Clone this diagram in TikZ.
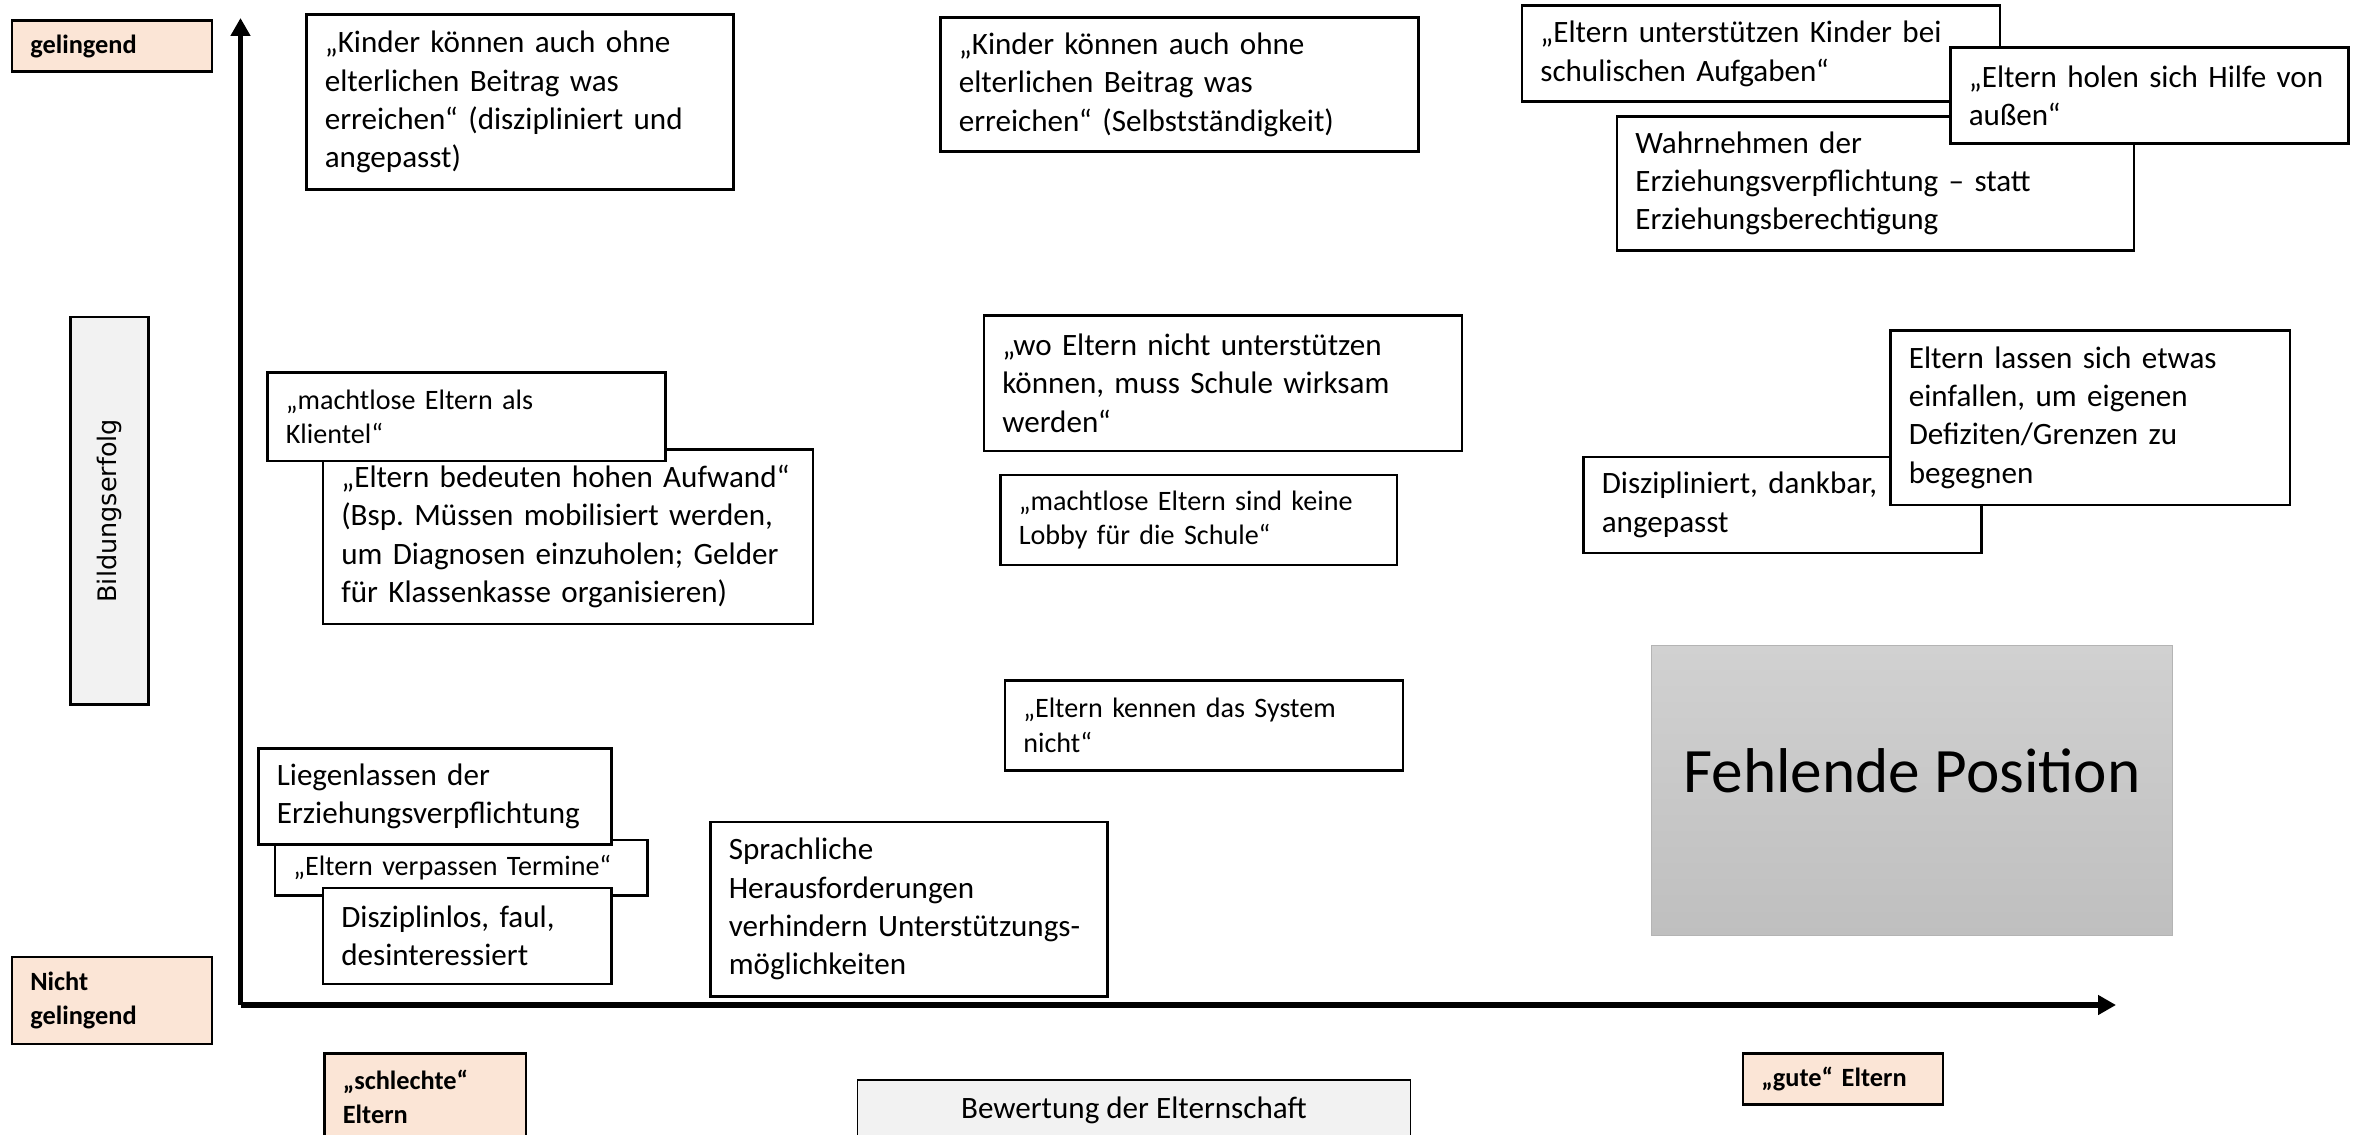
\documentclass[tikz,border=0pt]{standalone}
\usepackage{fontspec}
\setmainfont{Carlito}
\newfontfamily\axisfont{DejaVu Sans}
\usetikzlibrary{arrows.meta, positioning}
\frenchspacing
\definecolor{elPeach}{HTML}{FBE5D6}
\definecolor{elGrey}{HTML}{F2F2F2}
\definecolor{elShadeTop}{HTML}{D1D1D1}
\definecolor{elShadeBot}{HTML}{BFBFBF}
\definecolor{elEdge}{HTML}{B4B4B4}
\tikzset{
  % boxes are placed by their top left corner, sizes taken from the slide
  every picture/.append style = {line width=1.5pt},
  axisline/.style  = {-{Triangle[length=3.6mm, width=3.8mm]}, line width=3.4pt, black},
  quote/.style 2 args = {draw=black, fill=white, anchor=north west, align=left,
                         inner xsep=3.7mm, inner ysep=0pt, text width=#1, minimum height=#2,
                         font=\fontsize{17.7}{21.8}\selectfont},
  squote/.style 2 args = {quote={#1}{#2}, font=\fontsize{16}{19.5}\selectfont},
  pole/.style 2 args   = {quote={#1}{#2}, fill=elPeach, font=\fontsize{15}{19.5}\selectfont\bfseries},
  axtitle/.style   = {draw=black, fill=elGrey, inner sep=0pt, align=center},
  gap/.style       = {draw=elEdge, line width=0.8pt, top color=elShadeTop, bottom color=elShadeBot,
                      anchor=north west, inner sep=0pt, text depth=0.8cm,
                      font=\fontsize{36}{43}\selectfont},
}

\begin{document}
\begin{tikzpicture}[x=1cm,y=1cm]
  \useasboundingbox (0,0) rectangle (47.12,-22.70);
  % --- axes --------------------------------------------------------------
  \coordinate (origin) at (4.81,-20.10);
  \coordinate (ytop)   at (4.81,-0.36);
  \coordinate (xend)   at (42.32,-20.10);
  \draw[axisline] (origin) -- (ytop);
  \draw[axisline] (origin) -- (xend);
  \node[axtitle, rotate=90, minimum width=7.75cm, minimum height=1.56cm,
        font=\axisfont\fontsize{14.5}{17}\selectfont] (erfolg) at (2.19,-10.215) {Bildungserfolg};
  \node[axtitle, anchor=north west, minimum width=11.06cm, minimum height=1.2cm, line width=1pt,
        font=\fontsize{17.7}{21.8}\selectfont] (bewertung) at (17.13,-21.58) {Bewertung der Elternschaft};
  \node[pole={3.26cm}{1.02cm}] (gelingt)  at (0.21,-0.39)  {gelingend};
  \node[pole={3.26cm}{1.74cm}] (misslingt) at (0.21,-19.11) {Nicht\\gelingend};
  \node[pole={3.29cm}{1.74cm}] (schlecht) at (6.46,-21.04) {„schlechte“\\Eltern};
  \node[pole={3.26cm}{1.02cm}] (gut)      at (34.83,-21.04) {„gute“ Eltern};
  % --- upper row ---------------------------------------------------------
  \node[quote={7.80cm}{3.49cm}] (kinderDisz) at (6.10,-0.27)
    {„Kinder können auch ohne\\elterlichen Beitrag was\\erreichen“ (diszipliniert und\\angepasst)};
  \node[quote={8.82cm}{2.68cm}] (kinderSelbst) at (18.78,-0.33)
    {„Kinder können auch ohne\\elterlichen Beitrag was\\erreichen“ (Selbstständigkeit)};
  \node[quote={8.82cm}{1.92cm}] (unterstuetzen) at (30.41,-0.09)
    {„Eltern unterstützen Kinder bei\\schulischen Aufgaben“};
  \node[quote={9.60cm}{2.67cm}] (wahrnehmen) at (32.31,-2.31)
    {Wahrnehmen der\\Erziehungsverpflichtung – statt\\Erziehungsberechtigung};
  \node[quote={7.22cm}{1.92cm}] (hilfe) at (38.98,-0.93)
    {„Eltern holen sich Hilfe von\\außen“};
  % --- middle row --------------------------------------------------------
  \node[quote={9.06cm}{3.49cm}] (aufwand) at (6.43,-8.96)
    {\mbox{„Eltern bedeuten hohen Aufwand“}\\(Bsp. Müssen mobilisiert werden,\\um Diagnosen einzuholen; Gelder\\für Klassenkasse organisieren)};
  \node[squote={7.22cm}{1.77cm}] (klientel) at (5.32,-7.42)
    {„machtlose Eltern als\\Klientel“};
  \node[quote={8.82cm}{2.71cm}] (schule) at (19.65,-6.28)
    {„wo Eltern nicht unterstützen\\können, muss Schule wirksam\\werden“};
  \node[squote={7.19cm}{1.80cm}] (lobby) at (19.98,-9.47)
    {„machtlose Eltern sind keine\\Lobby für die Schule“};
  \node[quote={7.22cm}{1.92cm}] (dankbar) at (31.64,-9.11)
    {Diszipliniert, dankbar,\\angepasst};
  \node[quote={7.25cm}{3.49cm}] (einfallen) at (37.78,-6.58)
    {Eltern lassen sich etwas\\einfallen, um eigenen\\Defiziten/Grenzen zu\\begegnen};
  % --- lower row ---------------------------------------------------------
  \node[squote={7.22cm}{1.80cm}] (system) at (20.07,-13.58)
    {„Eltern kennen das System\\nicht“};
  \node[squote={6.71cm}{1.11cm}] (termine) at (5.47,-16.77)
    {„Eltern verpassen Termine“};
  \node[quote={6.32cm}{1.92cm}] (liegen) at (5.14,-14.94)
    {Liegenlassen der\\Erziehungsverpflichtung};
  \node[quote={5.03cm}{1.92cm}] (faul) at (6.43,-17.73)
    {Disziplinlos, faul,\\desinteressiert};
  \node[quote={7.20cm}{3.49cm}] (sprache) at (14.18,-16.41)
    {Sprachliche\\Herausforderungen\\verhindern Unterstützungs-\\möglichkeiten};
  % the empty corner
  \node[gap, minimum width=10.41cm, minimum height=5.80cm] (fehlt) at (33.02,-12.89)
    {Fehlende Position};
\end{tikzpicture}
\end{document}
